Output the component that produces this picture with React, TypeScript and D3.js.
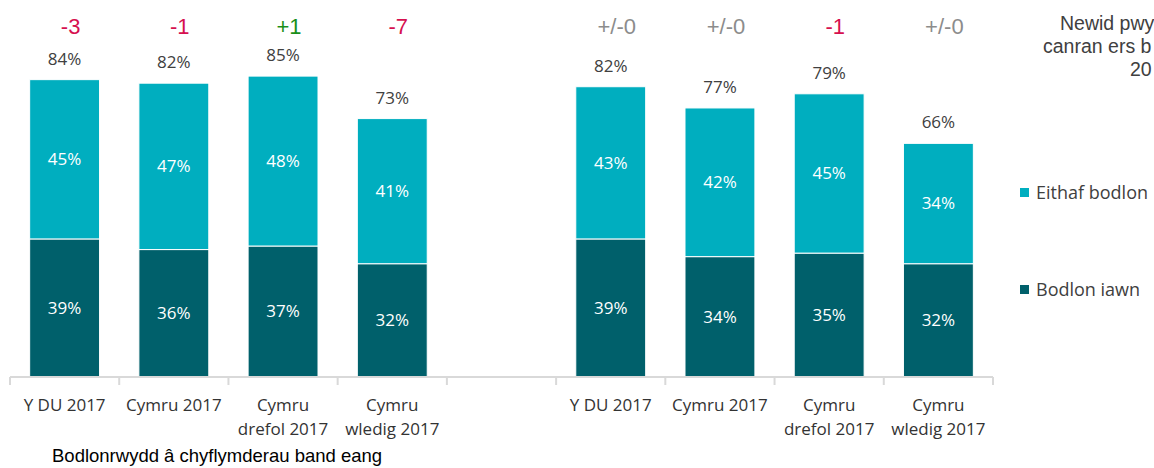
import { useEffect, useRef } from 'react';
import * as d3 from 'd3';

// Categories (empty one is the gap between the two groups)
const categories = ['uk1', 'wal1', 'urb1', 'rur1', 'gap', 'uk2', 'wal2', 'urb2', 'rur2'];
const tickLabels = [
  ['Y DU 2017'], ['Cymru 2017'], ['Cymru', 'drefol 2017'], ['Cymru', 'wledig 2017'], [],
  ['Y DU 2017'], ['Cymru 2017'], ['Cymru', 'drefol 2017'], ['Cymru', 'wledig 2017'],
];
const bodlonIawn = [39, 36, 37, 32, null, 39, 34, 35, 32];
const eithafBodlon = [45, 47, 48, 41, null, 43, 42, 45, 34];
const totals = [84, 82, 85, 73, null, 82, 77, 79, 66];
const changes = ['-3', '-1', '+1', '-7', '', '+/-0', '+/-0', '-1', '+/-0'];

const DARK = '#00606B';
const LIGHT = '#00AEBF';

const App = () => {
  const svgRef = useRef<SVGSVGElement>(null);

  useEffect(() => {
    const svg = d3.select(svgRef.current);
    svg.selectAll('*').remove();

    const x0 = 10, x1 = 993;
    const yBase = 377;
    const pxPerPct = 3.54;

    const x = d3.scaleBand().domain(categories).range([x0, x1]).paddingInner(0).paddingOuter(0);
    const y = d3.scaleLinear().domain([0, 100]).range([yBase, yBase - 100 * pxPerPct]);
    const barW = x.bandwidth() * 0.64;
    const bx = (c: string) => x(c)! + (x.bandwidth() - barW) / 2;
    const cx = (c: string) => x(c)! + x.bandwidth() / 2;

    const rows = categories
      .map((c, i) => ({ c, i, iawn: bodlonIawn[i], eithaf: eithafBodlon[i] }))
      .filter(d => d.iawn != null);

    const stack = d3.stack<any>().keys(['iawn', 'eithaf'])(rows);
    const colors = [DARK, LIGHT];

    stack.forEach((layer, li) => {
      const g = svg.append('g');
      g.selectAll('rect')
        .data(layer)
        .enter()
        .append('rect')
        .attr('x', d => bx(d.data.c))
        .attr('y', d => y(d[1]))
        .attr('width', barW)
        .attr('height', d => y(d[0]) - y(d[1]))
        .attr('fill', colors[li])
        .attr('stroke', '#fff')
        .attr('stroke-width', 1);

      g.selectAll('text')
        .data(layer)
        .enter()
        .append('text')
        .attr('x', d => cx(d.data.c))
        .attr('y', d => (y(d[0]) + y(d[1])) / 2)
        .attr('dy', '0.35em')
        .attr('text-anchor', 'middle')
        .style('font-family', '"Open Sans", sans-serif')
        .style('font-size', '17px')
        .style('fill', '#fff')
        .text(d => `${d[1] - d[0]}%`);
    });

    // Totals above bars
    svg.append('g')
      .selectAll('text')
      .data(rows)
      .enter()
      .append('text')
      .attr('x', d => cx(d.c))
      .attr('y', d => y(d.iawn! + d.eithaf!) - 15)
      .attr('text-anchor', 'middle')
      .style('font-family', '"Open Sans", sans-serif')
      .style('font-size', '17px')
      .style('fill', '#404040')
      .text(d => `${totals[d.i]}%`);

    // Change row
    const changeColor = (s: string) => (s.startsWith('+/-') ? '#8c8c8c' : s.startsWith('+') ? '#1a8f1a' : '#d6104f');
    svg.append('g')
      .selectAll('text')
      .data(rows)
      .enter()
      .append('text')
      .attr('x', d => cx(d.c) + 6)
      .attr('y', 34)
      .attr('text-anchor', 'middle')
      .style('font-family', '"Liberation Sans", Arial, sans-serif')
      .style('font-size', '22px')
      .style('fill', d => changeColor(changes[d.i]))
      .text(d => changes[d.i]);

    // Axis
    const axis = svg.append('g');
    axis.append('line')
      .attr('x1', x0).attr('x2', x1).attr('y1', yBase).attr('y2', yBase)
      .attr('stroke', '#d9d9d9').attr('stroke-width', 2);
    const edges = categories.map(c => x(c)!).concat([x1]);
    axis.selectAll('.tick')
      .data(edges)
      .enter()
      .append('line')
      .attr('x1', d => d).attr('x2', d => d)
      .attr('y1', yBase).attr('y2', yBase + 8)
      .attr('stroke', '#d9d9d9').attr('stroke-width', 2);

    const lbl = axis.selectAll('.lbl')
      .data(categories)
      .enter()
      .append('text')
      .attr('text-anchor', 'middle')
      .style('font-family', '"Open Sans", sans-serif')
      .style('font-size', '17px')
      .style('fill', '#333');
    lbl.each(function (c, i) {
      const t = d3.select(this);
      tickLabels[i].forEach((line, li) => {
        t.append('tspan').attr('x', cx(c)).attr('y', 411 + li * 24).text(line);
      });
    });

    // Title at bottom
    svg.append('text')
      .attr('x', 52)
      .attr('y', 462)
      .style('font-family', '"Liberation Sans", Arial, sans-serif')
      .style('font-size', '18.5px')
      .style('fill', '#000')
      .text('Bodlonrwydd â chyflymderau band eang');

    // Legend
    const legend = [
      { label: 'Eithaf bodlon', color: LIGHT, y: 193 },
      { label: 'Bodlon iawn', color: DARK, y: 290 },
    ];
    const lg = svg.append('g');
    lg.selectAll('rect')
      .data(legend)
      .enter()
      .append('rect')
      .attr('x', 1020).attr('y', d => d.y - 5).attr('width', 9).attr('height', 9)
      .attr('fill', d => d.color);
    lg.selectAll('text')
      .data(legend)
      .enter()
      .append('text')
      .attr('x', 1036).attr('y', d => d.y).attr('dy', '0.35em')
      .style('font-family', '"Open Sans", sans-serif')
      .style('font-size', '18px')
      .style('fill', '#404040')
      .text(d => d.label);

    // Note at top right (the source shows it cut at the edge)
    const note = [
      { t: 'Newid pwy', x: 1060, y: 30 },
      { t: 'canran ers b', x: 1043, y: 53 },
      { t: '20', x: 1130, y: 76 },
    ];
    svg.append('g')
      .selectAll('text')
      .data(note)
      .enter()
      .append('text')
      .attr('x', d => d.x).attr('y', d => d.y)
      .style('font-family', '"Liberation Sans", Arial, sans-serif')
      .style('font-size', '19.5px')
      .style('fill', '#404040')
      .text(d => d.t);
  }, []);

  return (
    <svg
      ref={svgRef}
      width={1154}
      height={468}
      style={{ position: 'absolute', left: 0, top: 0, background: '#fff' }}
    />
  );
};

export default App;
